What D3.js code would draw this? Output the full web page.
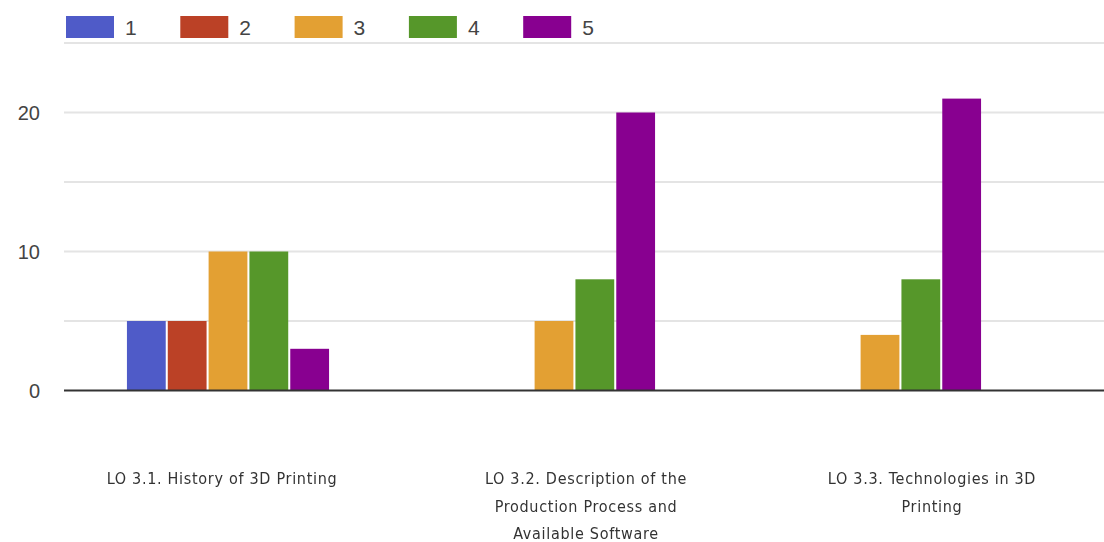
<!DOCTYPE html>
<html>
<head>
<meta charset="utf-8">
<script src="https://cdn.jsdelivr.net/npm/d3@7"></script>
<style>
  html, body { margin: 0; padding: 0; background: #fff; }
  svg { display: block; }
</style>
</head>
<body>
<svg id="chart" width="1104" height="542"></svg>
<script>
// Learning outcomes and their response counts per rating (1–5)
const categories = [
  "LO 3.1. History of 3D Printing",
  "LO 3.2. Description of the Production Process and Available Software",
  "LO 3.3. Technologies in 3D Printing"
];
const categoryLines = [
  ["LO 3.1. History of 3D Printing"],
  ["LO 3.2. Description of the", "Production Process and", "Available Software"],
  ["LO 3.3. Technologies in 3D", "Printing"]
];
const seriesNames = ["1", "2", "3", "4", "5"];
const rating1 = [5, 0, 0];
const rating2 = [5, 0, 0];
const rating3 = [10, 5, 4];
const rating4 = [10, 8, 8];
const rating5 = [3, 20, 21];
const seriesValues = [rating1, rating2, rating3, rating4, rating5];
const gridTicks = [0, 5, 10, 15, 20, 25];
const labelTicks = [0, 10, 20];
const colors = ["#4f5bc8", "#bb4126", "#e3a033", "#56972a", "#880090"];

const svg = d3.select("#chart");

// Soft filter for the category captions
svg.append("defs").append("filter").attr("id", "soft")
  .append("feGaussianBlur").attr("stdDeviation", 0.45);

const y = d3.scaleLinear().domain([0, 25]).range([390.5, 43]);
const x0 = d3.scaleBand().domain(categories).range([65, 1043])
  .paddingInner(0.38).paddingOuter(0.19);
const x1 = d3.scaleBand().domain(seriesNames).range([0, x0.bandwidth()])
  .paddingInner(0.05).paddingOuter(0);

// Horizontal gridlines
svg.append("g").selectAll("line").data(gridTicks.filter(d => d > 0)).join("line")
  .attr("x1", 64).attr("x2", 1104)
  .attr("y1", d => y(d)).attr("y2", d => y(d))
  .attr("stroke", "#e4e4e4").attr("stroke-width", 2);

// Y tick labels
svg.append("g").selectAll("text").data(labelTicks).join("text")
  .attr("x", 40).attr("y", d => y(d))
  .attr("dy", "0.35em")
  .attr("text-anchor", "end")
  .attr("font-family", "Arial, 'Liberation Sans', sans-serif")
  .attr("font-size", 20)
  .attr("fill", "#444")
  .text(d => d);

// Bars grouped by learning outcome
const groups = svg.append("g").selectAll("g").data(categories).join("g")
  .attr("transform", d => `translate(${x0(d)},0)`);
groups.selectAll("rect")
  .data((c, i) => seriesNames.map((s, j) => ({ s, j, v: seriesValues[j][i] })))
  .join("rect")
  .attr("x", d => x1(d.s))
  .attr("width", x1.bandwidth())
  .attr("y", d => y(d.v))
  .attr("height", d => y(0) - y(d.v))
  .attr("fill", d => colors[d.j]);

// Baseline
svg.append("line")
  .attr("x1", 64).attr("x2", 1104)
  .attr("y1", y(0)).attr("y2", y(0))
  .attr("stroke", "#333").attr("stroke-width", 2);

// Category labels
const labelCenters = [222, 586, 932];
const labels = svg.append("g").attr("filter", "url(#soft)")
  .selectAll("text").data(categoryLines).join("text")
  .attr("x", (d, i) => labelCenters[i])
  .attr("y", 484)
  .attr("text-anchor", "middle")
  .attr("font-family", "'Liberation Sans Narrow', 'DejaVu Sans Condensed', sans-serif")
  .attr("font-size", 16)
  .attr("letter-spacing", 0.7)
  .attr("fill", "#333");
labels.each(function(lines, i) {
  d3.select(this).selectAll("tspan").data(lines).join("tspan")
    .attr("x", labelCenters[i])
    .attr("dy", (d, k) => k === 0 ? 0 : 27.5)
    .text(d => d);
});

// Legend
const legend = svg.append("g").selectAll("g").data(seriesNames).join("g")
  .attr("transform", (d, i) => `translate(${66 + i * 114.3},16)`);
legend.append("rect")
  .attr("width", 48).attr("height", 22)
  .attr("fill", (d, i) => colors[i]);
legend.append("text")
  .attr("x", 59).attr("y", 11).attr("dy", "0.36em")
  .attr("font-family", "Arial, 'Liberation Sans', sans-serif")
  .attr("font-size", 21)
  .attr("fill", "#444")
  .text(d => d);
</script>
</body>
</html>
